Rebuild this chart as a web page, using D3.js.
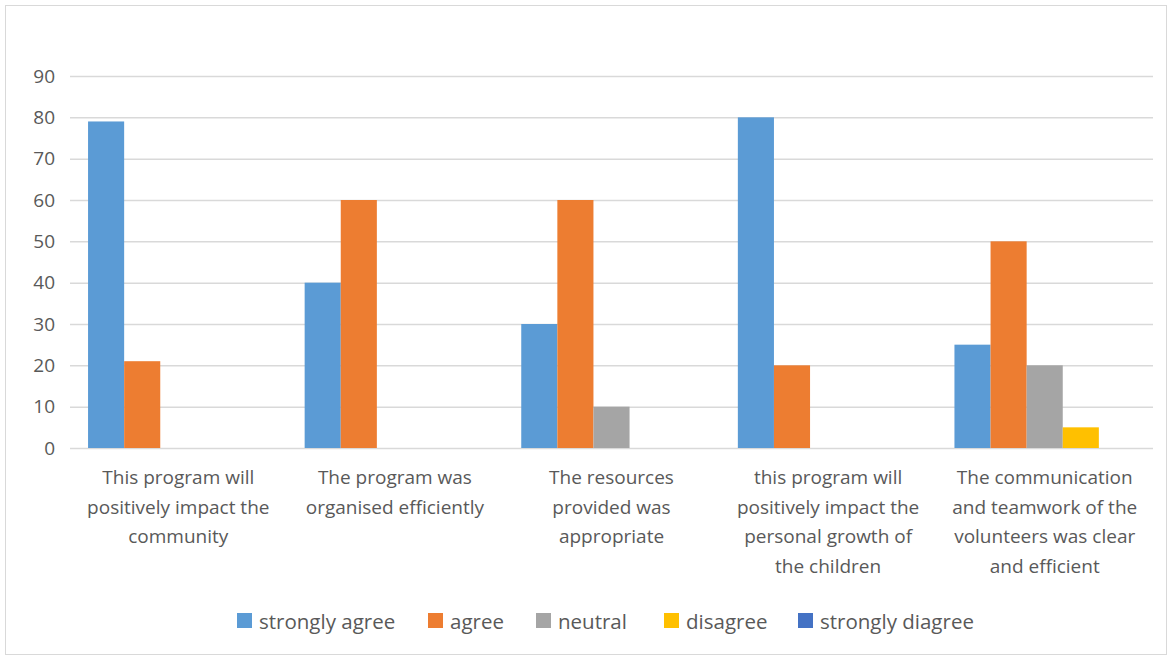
<!DOCTYPE html>
<html><head><meta charset="utf-8">
<script src="https://cdn.jsdelivr.net/npm/d3@7"></script>
<style>body{margin:0;background:#fff;} svg{display:block;}</style>
</head><body>
<svg id="c" width="1172" height="659"></svg>
<script>
const categories = [
  "This program will\npositively impact the\ncommunity",
  "The program was\norganised efficiently",
  "The resources\nprovided was\nappropriate",
  "this program will\npositively impact the\npersonal growth of\nthe children",
  "The communication\nand teamwork of the\nvolunteers was clear\nand efficient"
];
const seriesNames = ["strongly agree", "agree", "neutral", "disagree", "strongly diagree"];
const stronglyAgree = [79, 40, 30, 80, 25];
const agree = [21, 60, 60, 20, 50];
const neutral = [0, 0, 10, 0, 20];
const disagree = [0, 0, 0, 0, 5];
const stronglyDisagree = [0, 0, 0, 0, 0];
const yTicks = [0, 10, 20, 30, 40, 50, 60, 70, 80, 90];
const colors = ["#5B9BD5", "#ED7D31", "#A5A5A5", "#FFC000", "#4472C4"];

(function () {
const seriesValues = [stronglyAgree, agree, neutral, disagree, stronglyDisagree];
const svg = d3.select("#c");
const font = "'Open Sans', sans-serif";
const textColor = "#595959";

svg.append("rect").attr("x", 5.5).attr("y", 5.5).attr("width", 1161).attr("height", 649)
  .attr("fill", "#fff").attr("stroke", "#d9d9d9").attr("stroke-width", 1);

const pL = 70, pR = 1153, pT = 76, pB = 448;
const y = d3.scaleLinear().domain([0, 90]).range([pB, pT]);
const x0 = d3.scaleBand().domain(d3.range(categories.length)).range([pL, pR]).paddingInner(0).paddingOuter(0);
const x1 = d3.scaleBand().domain(d3.range(seriesNames.length)).range([0, x0.bandwidth()]).paddingOuter(0.5).paddingInner(0);

const yAxis = d3.axisLeft(y).tickValues(yTicks).tickSize(-(pR - pL)).tickPadding(15);
const gy = svg.append("g").attr("transform", `translate(${pL},0)`).call(yAxis);
gy.select(".domain").remove();
gy.selectAll(".tick line").attr("stroke", "#d9d9d9").attr("stroke-width", 1.5);
gy.selectAll(".tick text").attr("fill", textColor).style("font-family", font).style("font-size", "19px");

const groups = svg.append("g").selectAll("g").data(categories).join("g")
  .attr("transform", (d, i) => `translate(${x0(i)},0)`);
groups.selectAll("rect").data((d, i) => seriesValues.map((s, k) => ({k, v: s[i]})))
  .join("rect")
  .attr("x", d => x1(d.k))
  .attr("width", x1.bandwidth())
  .attr("y", d => y(d.v))
  .attr("height", d => y(0) - y(d.v))
  .attr("fill", d => colors[d.k]);

const xAxis = d3.axisBottom(x0).tickSize(0).tickFormat("");
const gx = svg.append("g").attr("transform", `translate(0,${pB})`).call(xAxis);
gx.select(".domain").remove();
categories.forEach((c, i) => {
  const cx = x0(i) + x0.bandwidth() / 2;
  const t = svg.append("text").attr("x", cx).attr("y", 484)
    .attr("text-anchor", "middle").attr("fill", textColor)
    .style("font-family", font).style("font-size", "19px");
  c.split("\n").forEach((line, j) => {
    t.append("tspan").attr("x", cx).attr("dy", j === 0 ? 0 : 29.5).text(line);
  });
});

const legendX = [237, 428, 536, 664, 798];
const lg = svg.append("g");
seriesNames.forEach((n, i) => {
  lg.append("rect").attr("x", legendX[i]).attr("y", 613).attr("width", 15).attr("height", 15).attr("fill", colors[i]);
  lg.append("text").attr("x", legendX[i] + 22).attr("y", 629).attr("fill", textColor)
    .style("font-family", font).style("font-size", "20.5px").text(n);
});
})();
</script>
</body></html>
